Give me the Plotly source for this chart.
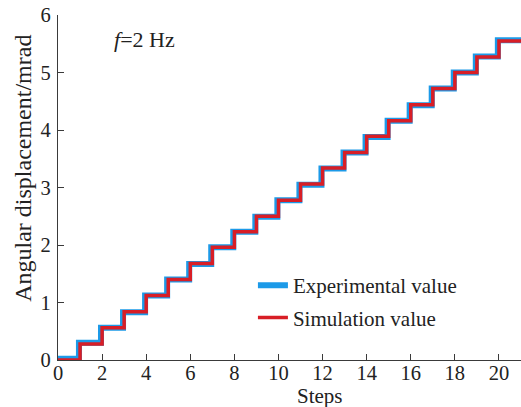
import plotly.graph_objects as go

# Data
steps = list(range(0, 22))
sim_levels = [0.0, 0.28, 0.56, 0.84, 1.12, 1.40, 1.68, 1.96, 2.23, 2.50, 2.78,
              3.06, 3.34, 3.61, 3.89, 4.16, 4.44, 4.72, 5.00, 5.27, 5.55, 5.55]
exp_steps = [0.0, 0.95, 1.95, 2.95, 3.95, 4.95, 5.95, 6.95, 7.95, 8.95, 9.95,
             10.95, 11.95, 12.95, 13.95, 14.95, 15.95, 16.95, 17.95, 18.95, 19.95, 21.0]
exp_levels = [0.02, 0.30, 0.56, 0.83, 1.12, 1.40, 1.67, 1.96, 2.23, 2.49, 2.78,
              3.05, 3.33, 3.61, 3.88, 4.16, 4.43, 4.72, 5.00, 5.28, 5.56, 5.56]
x_ticks = [0, 2, 4, 6, 8, 10, 12, 14, 16, 18, 20]
y_ticks = [0, 1, 2, 3, 4, 5, 6]

font_family = "Liberation Serif"
axis_color = "#3a3a3a"
text_color = "#222222"

fig = go.Figure()
fig.add_trace(go.Scatter(
    x=exp_steps, y=exp_levels, mode="lines", line_shape="hv",
    line=dict(color="#1C9AE8", width=6), name="Experimental value",
    legendgroup="a"))
fig.add_trace(go.Scatter(
    x=steps, y=sim_levels, mode="lines", line_shape="hv",
    line=dict(color="#D81E26", width=3.5), name="Simulation value",
    legendgroup="b"))

axis_common = dict(
    showgrid=False, zeroline=False, showline=True, linecolor=axis_color,
    linewidth=1.2, ticks="inside", ticklen=6, tickcolor=axis_color,
    tickfont=dict(family=font_family, size=20.5, color=text_color),
    mirror=False,
)

fig.update_layout(
    width=521, height=407,
    margin=dict(l=58, r=0, t=15, b=47),
    paper_bgcolor="white", plot_bgcolor="white",
    font=dict(family=font_family, color=text_color),
    xaxis=dict(range=[0, 21], tickvals=x_ticks, ticklabelstandoff=-6,
               **axis_common),
    yaxis=dict(range=[0, 6], tickvals=y_ticks, ticklabelstandoff=2,
               **axis_common),
    legend=dict(x=0.421, y=0.275, xanchor="left", yanchor="top",
                bgcolor="rgba(0,0,0,0)", tracegroupgap=2,
                font=dict(family=font_family, size=21, color=text_color)),
    showlegend=True,
    annotations=[
        dict(x=0.117, y=0.928, xref="paper", yref="paper", xanchor="left", yanchor="middle",
             text="<i>f</i>=2 Hz", showarrow=False,
             font=dict(family=font_family, size=22, color=text_color)),
        dict(x=-0.0756, y=0.557, xref="paper", yref="paper", xanchor="center", yanchor="middle",
             text="Angular displacement/mrad", textangle=-90, showarrow=False,
             font=dict(family=font_family, size=24, color=text_color)),
        dict(x=0.565, y=-0.105, xref="paper", yref="paper", xanchor="center", yanchor="middle",
             text="Steps", showarrow=False,
             font=dict(family=font_family, size=21, color=text_color)),
    ],
)

fig.write_html("out.html")
